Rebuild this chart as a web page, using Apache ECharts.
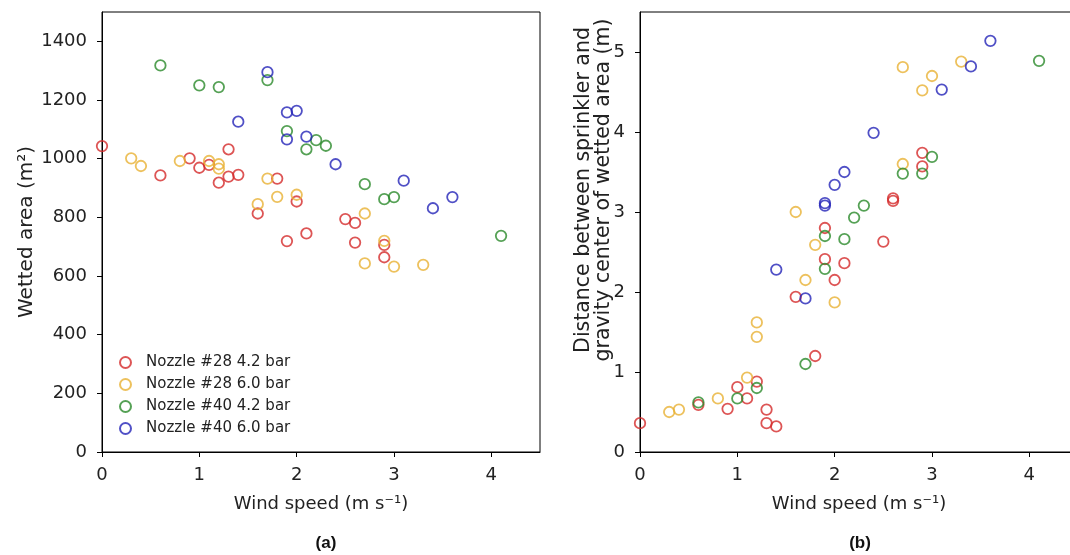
<!DOCTYPE html>
<html>
<head>
<meta charset="utf-8">
<script src="https://cdn.jsdelivr.net/npm/echarts@6/dist/echarts.min.js"></script>
<style>html,body{margin:0;padding:0;background:#fff}#c{width:1070px;height:555px}</style>
</head>
<body>
<div id="c"></div>
<script>
// ---- data ----
const seriesNames = ['Nozzle #28 4.2 bar', 'Nozzle #28 6.0 bar', 'Nozzle #40 4.2 bar', 'Nozzle #40 6.0 bar'];
const xTicks = [0, 1, 2, 3, 4];
const areaTicks = [0, 200, 400, 600, 800, 1000, 1200, 1400];
const distTicks = [0, 1, 2, 3, 4, 5];

// (a) wetted area (m2) vs wind speed
const areaN28_42 = [[0,1043],[0.6,943],[0.9,1001],[1.0,969],[1.1,979],[1.2,918],[1.3,1032],[1.3,939],[1.4,945],[1.6,813],[1.8,932],[1.9,719],[2.0,854],[2.1,745],[2.5,794],[2.6,781],[2.6,714],[2.9,664],[2.9,706]];
const areaN28_60 = [[0.3,1001],[0.4,975],[0.8,992],[1.1,992],[1.2,981],[1.2,966],[1.6,845],[1.7,932],[1.8,870],[2.0,877],[2.7,813],[2.7,643],[2.9,720],[3.0,632],[3.3,638]];
const areaN40_42 = [[0.6,1318],[1.0,1250],[1.2,1244],[1.7,1268],[1.9,1094],[2.1,1032],[2.2,1063],[2.3,1044],[2.7,913],[2.9,862],[3.0,869],[4.1,737]];
const areaN40_60 = [[1.4,1126],[1.7,1295],[1.9,1158],[1.9,1066],[2.0,1163],[2.1,1075],[2.4,981],[3.1,925],[3.4,831],[3.6,869]];

// (b) distance between sprinkler and gravity center (m) vs wind speed
const distN28_42 = [[0,0.36],[0.6,0.59],[0.9,0.54],[1.0,0.81],[1.1,0.67],[1.2,0.88],[1.3,0.53],[1.3,0.36],[1.4,0.32],[1.6,1.94],[1.8,1.20],[1.9,2.80],[1.9,2.41],[2.0,2.15],[2.1,2.36],[2.5,2.63],[2.6,3.17],[2.6,3.14],[2.9,3.74],[2.9,3.57]];
const distN28_60 = [[0.3,0.50],[0.4,0.53],[0.8,0.67],[1.1,0.93],[1.2,1.62],[1.2,1.44],[1.6,3.00],[1.7,2.15],[1.8,2.59],[2.0,1.87],[2.7,4.81],[2.7,3.60],[2.9,4.52],[3.0,4.70],[3.3,4.88]];
const distN40_42 = [[0.6,0.62],[1.0,0.67],[1.2,0.80],[1.7,1.10],[1.9,2.70],[1.9,2.29],[2.1,2.66],[2.2,2.93],[2.3,3.08],[2.7,3.48],[2.9,3.48],[3.0,3.69],[4.1,4.89]];
const distN40_60 = [[1.4,2.28],[1.7,1.92],[1.9,3.11],[1.9,3.08],[2.0,3.34],[2.1,3.50],[2.4,3.99],[3.1,4.53],[3.4,4.82],[3.6,5.14]];

const colors = ['#d42b2b', '#e8b234', '#2b8a2b', '#2424b8'];
const areaData = [areaN28_42, areaN28_60, areaN40_42, areaN40_60];
const distData = [distN28_42, distN28_60, distN40_42, distN40_60];

const FONT = 'DejaVu Sans';
function xAxisCfg(gridIndex) {
  return {
    type: 'value', gridIndex, min: 0, max: 4.5, interval: 1,
    name: 'Wind speed (m s\u207B\u00B9)', nameLocation: 'middle', nameGap: 43,
    nameTextStyle: { fontFamily: FONT, fontSize: 18, color: '#222' },
    axisLine: { show: true, lineStyle: { color: '#000', width: 1 } },
    axisTick: { show: true, length: 5, lineStyle: { color: '#000' } },
    axisLabel: { fontFamily: FONT, fontSize: 18, color: '#222', margin: 14, showMaxLabel: false,
      formatter: v => xTicks.includes(v) ? String(v) : '' },
    splitLine: { show: false }
  };
}
function yAxisCfg(gridIndex, max, interval, ticks, name, gap) {
  return {
    type: 'value', gridIndex, min: 0, max, interval,
    name, nameLocation: 'middle', nameGap: gap, nameRotate: 90,
    nameTextStyle: { fontFamily: FONT, fontSize: 20, color: '#222' },
    axisLine: { show: true, lineStyle: { color: '#000', width: 1 } },
    axisTick: { show: true, length: 5, lineStyle: { color: '#000' } },
    axisLabel: { fontFamily: FONT, fontSize: 18, color: '#222', margin: 15, showMaxLabel: false,
      formatter: v => ticks.includes(v) ? String(v) : '' },
    splitLine: { show: false }
  };
}

const series = [];
seriesNames.forEach((n, i) => {
  const st = { color: 'rgba(255,255,255,0)', borderColor: colors[i], borderWidth: 1.8 };
  series.push({ name: n, type: 'scatter', xAxisIndex: 0, yAxisIndex: 0, data: areaData[i],
    symbol: 'circle', symbolSize: 10.5, itemStyle: st, z: 2 + i });
  series.push({ name: n, type: 'scatter', xAxisIndex: 1, yAxisIndex: 1, data: distData[i],
    symbol: 'circle', symbolSize: 10.5, itemStyle: st, z: 2 + i });
});

const chart = echarts.init(document.getElementById('c'), null, { renderer: 'canvas' });
chart.setOption({
  animation: false,
  backgroundColor: '#fff',
  grid: [
    { left: 102, top: 12, width: 438, height: 440, outerBoundsMode: 'none', containLabel: false, show: true, borderColor: '#000', borderWidth: 1, backgroundColor: 'transparent' },
    { left: 640, top: 12, right: -8, height: 440, outerBoundsMode: 'none', containLabel: false, show: true, borderColor: '#000', borderWidth: 1, backgroundColor: 'transparent' }
  ],
  xAxis: [xAxisCfg(0), xAxisCfg(1)],
  yAxis: [
    yAxisCfg(0, 1500, 200, areaTicks, 'Wetted area (m\u00B2)', 63),
    Object.assign(yAxisCfg(1, 5.5, 1, distTicks, '', 30), { name: '' })
  ],
  graphic: [
    { type: 'text', x: 594, y: 190, rotation: Math.PI / 2, z: 10,
      style: { text: 'Distance between sprinkler and\ngravity center of wetted area (m)',
        fontFamily: FONT, fontSize: 20.5, lineHeight: 20, fill: '#222', align: 'center', verticalAlign: 'middle' } }
  ],
  legend: {
    data: seriesNames, orient: 'vertical', left: 114, top: 350,
    icon: 'circle', itemWidth: 11, itemHeight: 11, itemGap: 7,
    textStyle: { fontFamily: FONT, fontSize: 15, color: '#222', padding: [0, 0, 0, 10] },
    selectedMode: false
  },
  title: [
    { text: '(a)', left: 321, top: 530, textAlign: 'center', textStyle: { fontFamily: 'Liberation Sans', fontSize: 17, fontWeight: 'bold', color: '#111' } },
    { text: '(b)', left: 855, top: 530, textAlign: 'center', textStyle: { fontFamily: 'Liberation Sans', fontSize: 17, fontWeight: 'bold', color: '#111' } }
  ],
  series
});
</script>
</body>
</html>
